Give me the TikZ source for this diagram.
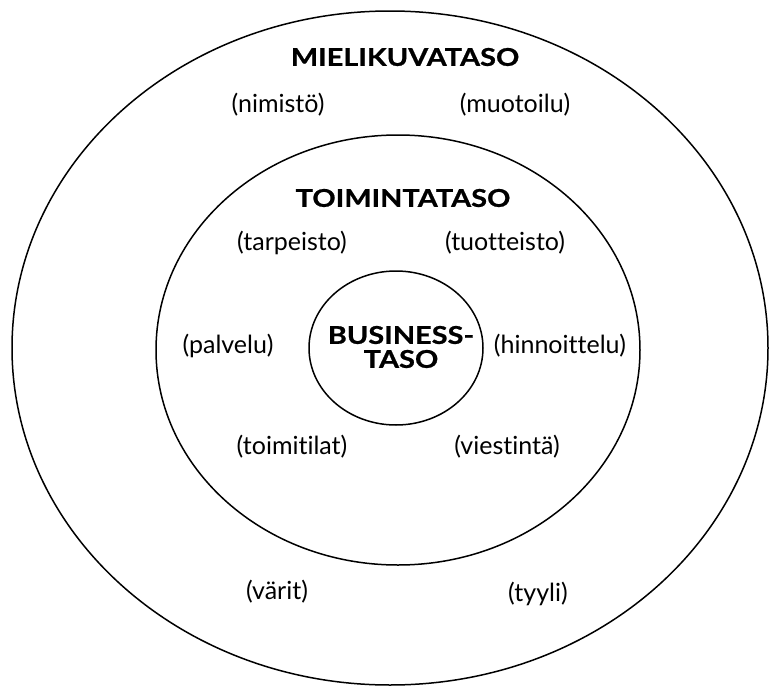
\documentclass[tikz,border=0pt]{standalone}
\usepackage{fontspec}
\setmainfont{Lato}[Ligatures=NoCommon]
\newfontfamily\headfont{Lato}[Ligatures=NoCommon, FakeStretch=1.18,
  BoldFeatures={FakeStretch=1.18, FakeBold=0.8}]
\usetikzlibrary{positioning}
\tikzset{
  ring/.style={line width=1.5pt},
  level/.style={font=\headfont\bfseries\fontsize{24.5}{24}\selectfont, align=center},
  item/.style={font=\fontsize{25}{28}\selectfont}
}

\begin{document}
\begin{tikzpicture}[x=1pt,y=-1pt]
        \useasboundingbox (0,0) rectangle (769,688);

        % the three levels
        \draw[ring] (390,348) ellipse (378pt and 337pt);
        \draw[ring] (398,350) ellipse (242pt and 215pt);
        \draw[ring] (396,348) ellipse (87pt and 77pt);

        \node[level] (mieli) at (405,57) {MIELIKUVATASO};
        \node[item] (nimisto) at (278,105) {(nimistö)};
        \node[item] (muotoilu) at (515,105) {(muotoilu)};

        \node[level] (toiminta) at (403,198) {TOIMINTATASO};
        \node[item] (tarpeisto) at (292,243) {(tarpeisto)};
        \node[item] (tuotteisto) at (505,243) {(tuotteisto)};
        \node[item] (palvelu) at (228,346) {(palvelu)};
        \node[level] (business) at (401,347) {BUSINESS-\\TASO};
        \node[item] (hinnoittelu) at (560,346) {(hinnoittelu)};
        \node[item] (toimitilat) at (292,447) {(toimitilat)};
        \node[item] (viestinta) at (507,447) {(viestintä)};

        \node[item] (varit) at (277,592) {(värit)};
        \node[item] (tyyli) at (538,594) {(tyyli)};
      \end{tikzpicture}
\end{document}
